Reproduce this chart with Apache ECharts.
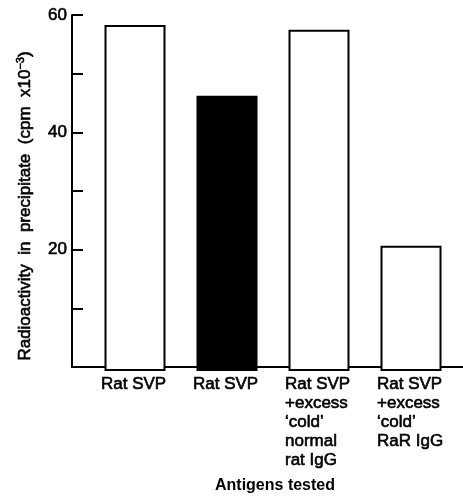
<!DOCTYPE html>
<html>
<head>
<meta charset="utf-8">
<script src="https://cdn.jsdelivr.net/npm/echarts@6/dist/echarts.min.js"></script>
<style>
html,body{margin:0;padding:0;background:#fff;}
#chart{width:463px;height:499px;}
</style>
</head>
<body>
<div id="chart"></div>
<script>
// ---- data ----
var categories = [
  'Rat SVP',
  'Rat SVP',
  'Rat SVP\n+excess\n\u2018cold\u2019\nnormal\nrat IgG',
  'Rat SVP\n+excess\n\u2018cold\u2019\nRaR IgG'
];
var values = [58.3, 46.4, 57.5, 21.1];
var solidBar = [false, true, false, false];
var yTickLabels = [20, 40, 60];
var yAxisTitle = 'Radioactivity  in  precipitate  (cpm  x10';
var yAxisTitleSup = '\u22123';
var xAxisTitle = 'Antigens tested';

var FONT = '"Liberation Sans", Arial, Helvetica, sans-serif';
var chart = echarts.init(document.getElementById('chart'), null, {renderer: 'canvas'});

var barData = values.map(function (v, i) {
  return {
    value: v,
    itemStyle: {
      color: solidBar[i] ? '#000' : '#fff',
      borderColor: '#000',
      borderWidth: 2
    }
  };
});

var heavy = {textBorderColor: '#000', textBorderWidth: 0.6};

var option = {
  backgroundColor: '#fff',
  animation: false,
  textStyle: {fontFamily: FONT, color: '#000'},
  grid: [
    {left: 89, right: 6, top: 15, bottom: 128},
    {left: 72, right: 0, top: 15, bottom: 128},
    {left: 55, right: 40, top: 15, bottom: 128}
  ],
  xAxis: [
    {
      type: 'category', gridIndex: 0, data: categories,
      axisLine: {show: false}, axisTick: {show: false}, axisLabel: {show: false}
    },
    {
      type: 'value', gridIndex: 1, min: 0, max: 1,
      axisLine: {show: true, lineStyle: {color: '#000', width: 2}},
      axisTick: {show: false}, axisLabel: {show: false}, splitLine: {show: false},
      name: xAxisTitle, nameLocation: 'middle', nameGap: 111,
      nameTextStyle: {fontSize: 16, fontWeight: 'bold', color: '#000', fontFamily: FONT, padding: [0, 0, 0, 15]}
    },
    {
      type: 'category', gridIndex: 2, data: categories,
      axisLine: {show: false}, axisTick: {show: false},
      axisLabel: Object.assign({
        show: true, interval: 0, align: 'left', margin: 4,
        fontSize: 17, lineHeight: 19, color: '#000', fontFamily: FONT
      }, heavy)
    }
  ],
  yAxis: [
    {type: 'value', gridIndex: 0, min: 0, max: 60, interval: 10, show: false},
    {
      type: 'value', gridIndex: 1, min: 0, max: 60, interval: 10,
      axisLine: {show: true, lineStyle: {color: '#000', width: 2}},
      axisTick: {show: true, inside: true, length: 11, lineStyle: {color: '#000', width: 2}},
      splitLine: {show: false},
      axisLabel: Object.assign({
        show: true, margin: 5, fontSize: 17, color: '#000', fontFamily: FONT,
        formatter: function (v) { return yTickLabels.indexOf(v) >= 0 ? String(v) : ''; }
      }, heavy),
      name: '{n|' + yAxisTitle + '}{s|' + yAxisTitleSup + '}{n|)}',
      nameLocation: 'middle', nameGap: 37,
      nameTextStyle: {
        padding: [0, 30, 0, 0],
        rich: {
          n: Object.assign({fontSize: 17, fontFamily: FONT, color: '#000', lineHeight: 20}, heavy),
          s: Object.assign({fontSize: 11, fontFamily: FONT, color: '#000', verticalAlign: 'top', lineHeight: 20, padding: [0, 0, 6, 0]}, heavy)
        }
      }
    },
    {type: 'value', gridIndex: 2, min: 0, max: 60, interval: 10, show: false}
  ],
  series: [
    {
      type: 'bar', xAxisIndex: 0, yAxisIndex: 0,
      barWidth: 61, data: barData, silent: true
    }
  ]
};
chart.setOption(option);
</script>
</body>
</html>
